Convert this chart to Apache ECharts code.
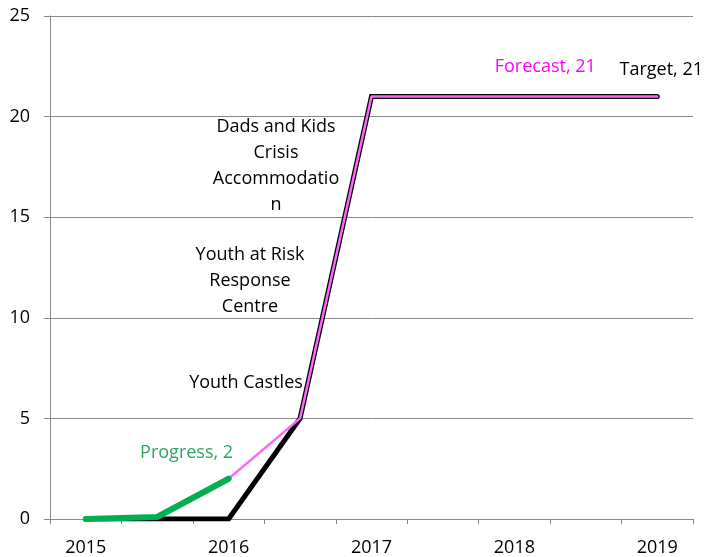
<!DOCTYPE html>
<html><head><meta charset="utf-8">
<script src="https://cdn.jsdelivr.net/npm/echarts@6/dist/echarts.min.js"></script>
<style>html,body{margin:0;padding:0;background:#fff}#c{width:704px;height:557px}</style>
</head><body><div id="c"></div>
<script>
var categories = ['2015', '2015.5', '2016', '2016.5', '2017', '2017.5', '2018', '2018.5', '2019'];
var tickLabels = ['2015', '', '2016', '', '2017', '', '2018', '', '2019'];
var targetValues = [0, 0, 0, 5, 21, 21, 21, 21, 21];
var forecastValues = [null, null, 2, 5, 21, 21, 21, 21, 21];
var progressValues = [0, 0.1, 2, null, null, null, null, null, null];
var yTicks = [0, 5, 10, 15, 20, 25];

var FONT = 'Open Sans';
var chart = echarts.init(document.getElementById('c'));
function lastLabel(arr, name, color, offset) {
  var last = -1;
  for (var i = 0; i < arr.length; i++) if (arr[i] != null) last = i;
  return arr.map(function (v, i) {
    if (i !== last) return v;
    return { value: v, label: { show: true, formatter: name + ', ' + v, color: color, position: 'top', offset: offset, fontFamily: FONT, fontSize: 18 } };
  });
}
chart.setOption({
  animation: false,
  grid: { left: 50, right: 11, top: 16, bottom: 38 },
  xAxis: {
    type: 'category', data: categories, boundaryGap: true,
    axisLine: { lineStyle: { color: '#888', width: 1 } },
    axisTick: { show: true, interval: 0, length: 5, lineStyle: { color: '#888' } },
    axisLabel: { interval: 0, formatter: function (v, i) { return tickLabels[i]; }, color: '#000', fontFamily: FONT, fontSize: 18, margin: 20 },
    splitLine: { show: false }
  },
  yAxis: {
    type: 'value', min: yTicks[0], max: yTicks[yTicks.length - 1], interval: 5,
    axisLine: { show: true, lineStyle: { color: '#888' } },
    axisTick: { show: true, length: 6, lineStyle: { color: '#888' } },
    axisLabel: { color: '#000', fontFamily: FONT, fontSize: 18, margin: 20 },
    splitLine: { lineStyle: { color: '#888', width: 1 } }
  },
  series: [
    { name: 'Target', type: 'line', data: lastLabel(targetValues, 'Target', '#000', [4, -13]), symbol: 'circle', symbolSize: 0.01, showSymbol: true, z: 2,
      itemStyle: { color: '#000' },
      lineStyle: { color: '#000', width: 5, cap: 'round', join: 'miter' } },
    { name: 'Forecast', type: 'line', data: lastLabel(forecastValues, 'Forecast', '#FF00FF', [-112, -16]), symbol: 'circle', symbolSize: 0.01, showSymbol: true, z: 3,
      itemStyle: { color: '#FF66FF' },
      lineStyle: { color: '#FF66FF', width: 2.5, cap: 'round' } },
    { name: 'Progress', type: 'line', data: lastLabel(progressValues, 'Progress', '#2EA65F', [-42, -12]), symbol: 'circle', symbolSize: 0.01, showSymbol: true, z: 4,
      itemStyle: { color: '#00B050' },
      lineStyle: { color: '#00B050', width: 6, cap: 'round' } }
  ],
  graphic: [
    { type: 'text', x: 276, y: 114, style: { text: 'Dads and Kids\nCrisis\nAccommodatio\nn', align: 'center', fill: '#000', font: '18px "Open Sans"', lineHeight: 26 } },
    { type: 'text', x: 250, y: 242, style: { text: 'Youth at Risk\nResponse\nCentre', align: 'center', fill: '#000', font: '18px "Open Sans"', lineHeight: 26 } },
    { type: 'text', x: 246, y: 370, style: { text: 'Youth Castles', align: 'center', fill: '#000', font: '18px "Open Sans"', lineHeight: 26 } }
  ]
});
</script></body></html>
